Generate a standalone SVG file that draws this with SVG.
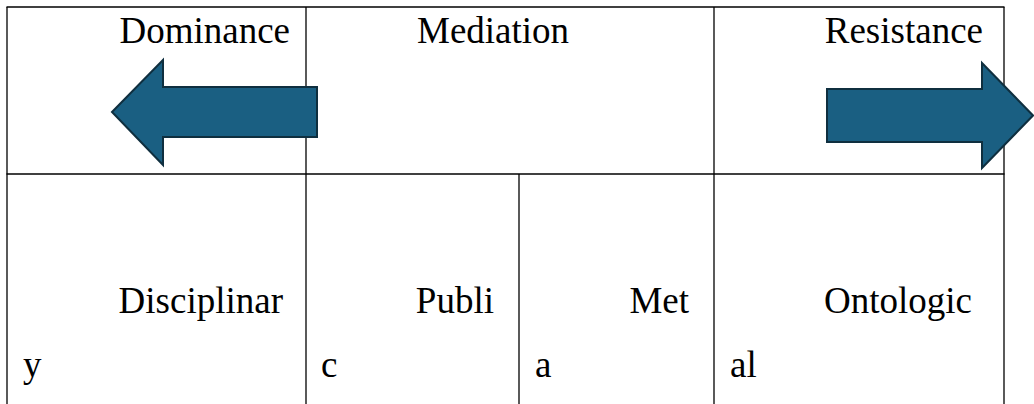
<svg xmlns="http://www.w3.org/2000/svg" width="1034" height="404" viewBox="0 0 1034 404">
<style>
.grid line{stroke:#000;stroke-width:1.3}
text{font-family:'Liberation Serif','Times New Roman',serif;font-size:37px;fill:#000}
.e{text-anchor:end}
.arrow{fill:#1a5f82;stroke:#0f2f3f;stroke-width:2;stroke-linejoin:miter}
</style>
<rect width="1034" height="404" fill="#fff"/>
<g id="grid" class="grid">
<line x1="6.5" y1="7" x2="1004.5" y2="7"/>
<line x1="6.5" y1="174" x2="1004.5" y2="174"/>
<line x1="7" y1="7" x2="7" y2="404"/>
<line x1="306" y1="7" x2="306" y2="404"/>
<line x1="519" y1="174" x2="519" y2="404"/>
<line x1="714" y1="7" x2="714" y2="404"/>
<line x1="1004" y1="7" x2="1004" y2="404"/>
</g>
<g id="header">
<g id="dominance"><text class="e" x="290" y="43">Dominance</text></g>
<g id="mediation"><text x="417" y="43">Mediation</text></g>
<g id="resistance"><text class="e" x="983" y="43">Resistance</text></g>
</g>
<g id="connectors">
<polygon id="arrow-left" class="arrow" points="112,112 163,60 163,87 317,87 317,137 163,137 163,165"/>
<polygon id="arrow-right" class="arrow" points="827,89 982,89 982,63 1033,115.5 982,168 982,142 827,142"/>
</g>
<g id="disciplinary"><text class="e" x="283" y="313">Disciplinar</text><text x="23" y="377">y</text></g>
<g id="public"><text class="e" x="494" y="313">Publi</text><text x="321" y="377">c</text></g>
<g id="meta"><text class="e" x="689" y="313">Met</text><text x="535" y="377">a</text></g>
<g id="ontological"><text class="e" x="972" y="313">Ontologic</text><text x="730" y="377">al</text></g>
</svg>
